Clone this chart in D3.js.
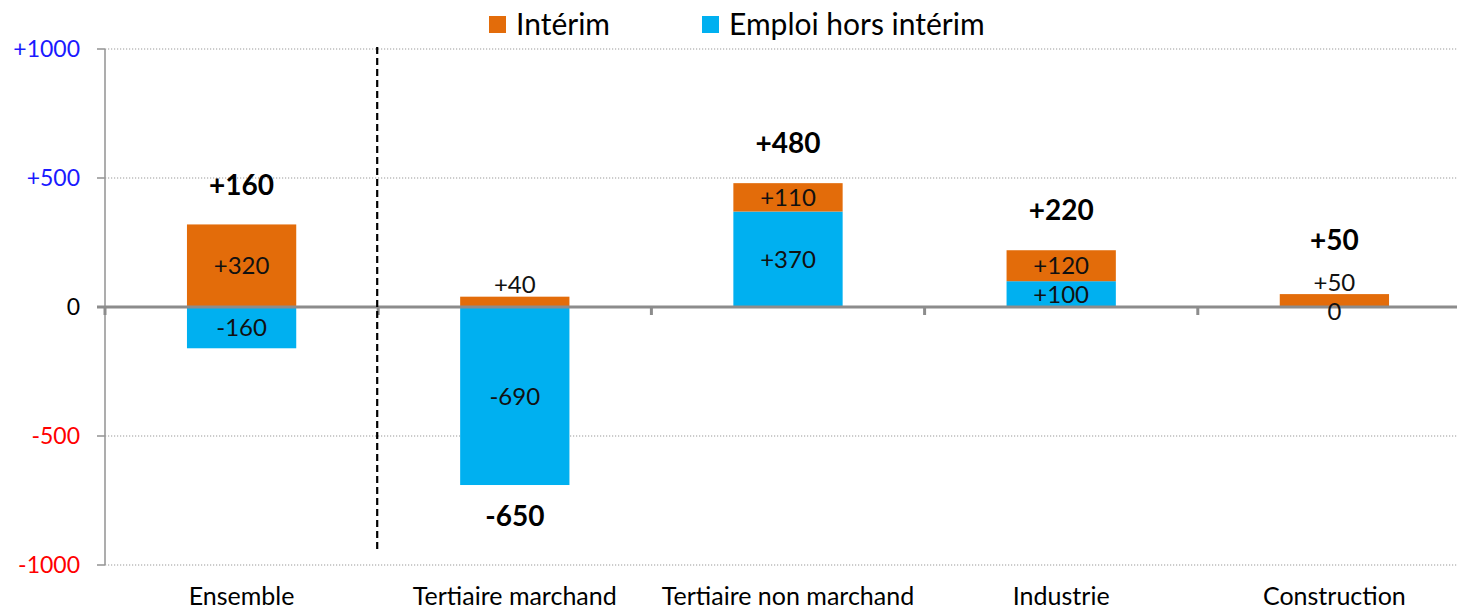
<!DOCTYPE html>
<html>
<head>
<meta charset="utf-8">
<script src="https://cdn.jsdelivr.net/npm/d3@7"></script>
<style>
  body { margin: 0; background: #fff; }
  svg { display: block; font-family: Lato, "Liberation Sans", sans-serif; }
</style>
</head>
<body>
<svg id="chart" width="1457" height="610"></svg>
<script>
"use strict";

// données
var categories = ["Ensemble", "Tertiaire marchand", "Tertiaire non marchand", "Industrie", "Construction"];
var interim = [320, 40, 110, 120, 50];
var emploiHorsInterim = [-160, -690, 370, 100, 0];
var totaux = [160, -650, 480, 220, 50];
var yTicks = [1000, 500, 0, -500, -1000];
var yTickLabels = ["+1000", "+500", "0", "-500", "-1000"];
var seriesNames = ["Intérim", "Emploi hors intérim"];

var ORANGE = "#E36C0A";
var BLEU = "#00B0F0";

var svg = d3.select("#chart");

var left = 105;
var x = d3.scaleBand().domain(categories).range([left, left + 5 * 273.2]).padding(0);
var y = d3.scaleLinear().domain([-1000, 1000]).range([565, 49]);
var barW = x.bandwidth() * 0.4;

function cx(c) { return x(c) + x.bandwidth() / 2; }
function fmt(v) { return v > 0 ? "+" + v : String(v); }
function segH(s) { return Math.abs(y(s.y0) - y(s.y1)); }

// grille pointillée
svg.append("g").selectAll("line")
  .data(yTicks.filter(function (d) { return d !== 0; }))
  .enter().append("line")
  .attr("x1", left).attr("x2", 1457)
  .attr("y1", function (d) { return y(d); }).attr("y2", function (d) { return y(d); })
  .attr("stroke", "#9a9a9a").attr("stroke-width", 1.2)
  .attr("stroke-dasharray", "1.2,1.8");

// axe vertical
svg.append("line")
  .attr("x1", left).attr("x2", left)
  .attr("y1", y(1000)).attr("y2", y(-1000))
  .attr("stroke", "#999").attr("stroke-width", 1.6);

svg.append("g").selectAll("line")
  .data(yTicks)
  .enter().append("line")
  .attr("x1", left - 8).attr("x2", left)
  .attr("y1", function (d) { return y(d); }).attr("y2", function (d) { return y(d); })
  .attr("stroke", "#999").attr("stroke-width", 1.6);

svg.append("g").selectAll("text")
  .data(yTicks)
  .enter().append("text")
  .attr("x", 80)
  .attr("y", function (d) { return y(d); })
  .attr("dy", "0.36em")
  .attr("text-anchor", "end")
  .attr("font-size", 23)
  .attr("fill", function (d) { return d > 0 ? "#1a1aff" : (d < 0 ? "#ff0000" : "#000"); })
  .text(function (d, i) { return yTickLabels[i]; });

// barres empilées
var rows = categories.map(function (c, i) {
  var segs = [];
  var pos = 0, neg = 0;
  [[emploiHorsInterim[i], BLEU, "emploi"], [interim[i], ORANGE, "interim"]].forEach(function (s) {
    var v = s[0], y0, y1;
    if (v >= 0) { y0 = pos; y1 = pos + v; pos = y1; }
    else { y0 = neg; y1 = neg + v; neg = y1; }
    segs.push({ cat: c, v: v, color: s[1], key: s[2], y0: y0, y1: y1 });
  });
  return { cat: c, segs: segs, pos: pos, neg: neg, total: totaux[i] };
});

var allSegs = [];
rows.forEach(function (r) { r.segs.forEach(function (s) { s.top = r.pos; allSegs.push(s); }); });

svg.append("g").selectAll("rect")
  .data(allSegs.filter(function (s) { return s.v !== 0; }))
  .enter().append("rect")
  .attr("x", function (s) { return cx(s.cat) - barW / 2; })
  .attr("width", barW)
  .attr("y", function (s) { return y(Math.max(s.y0, s.y1)); })
  .attr("height", function (s) { return segH(s); })
  .attr("fill", function (s) { return s.color; });

// ligne du zéro et graduations des catégories
svg.append("line")
  .attr("x1", left - 8).attr("x2", 1457)
  .attr("y1", y(0)).attr("y2", y(0))
  .attr("stroke", "#8c8c8c").attr("stroke-width", 3);

svg.append("g").selectAll("line")
  .data(categories)
  .enter().append("line")
  .attr("x1", function (c) { return x(c); }).attr("x2", function (c) { return x(c); })
  .attr("y1", y(0)).attr("y2", y(0) + 8)
  .attr("stroke", "#8c8c8c").attr("stroke-width", 3);

// séparateur
svg.append("line")
  .attr("x1", x(categories[1]) - 1).attr("x2", x(categories[1]) - 1)
  .attr("y1", 47).attr("y2", 552)
  .attr("stroke", "#000").attr("stroke-width", 2.2)
  .attr("stroke-dasharray", "7,4");

// étiquettes des segments
svg.append("g").selectAll("text")
  .data(allSegs)
  .enter().append("text")
  .attr("x", function (s) { return cx(s.cat); })
  .attr("y", function (s) {
    if (s.v === 0) return y(0) + 4;
    if (segH(s) < 16) return y(s.top) - 12;
    return (y(s.y0) + y(s.y1)) / 2;
  })
  .attr("dy", "0.36em")
  .attr("text-anchor", "middle")
  .attr("font-size", 24)
  .attr("fill", "#111")
  .text(function (s) { return fmt(s.v); });

// totaux
svg.append("g").selectAll("text")
  .data(rows)
  .enter().append("text")
  .attr("x", function (r) { return cx(r.cat); })
  .attr("y", function (r) {
    if (r.total < 0) return y(r.neg) + 31;
    // plus haut si une petite étiquette est posée au-dessus de la barre
    var tiny = r.segs.some(function (s) { return s.v > 0 && segH(s) < 16; });
    return y(r.pos) - (tiny ? 54 : 40);
  })
  .attr("dy", "0.36em")
  .attr("text-anchor", "middle")
  .attr("font-size", 28)
  .attr("font-weight", "bold")
  .attr("fill", "#000")
  .text(function (r) { return fmt(r.total); });

// libellés des catégories
svg.append("g").selectAll("text")
  .data(categories)
  .enter().append("text")
  .attr("x", function (c) { return cx(c); })
  .attr("y", 605)
  .attr("text-anchor", "middle")
  .attr("font-size", 25)
  .attr("fill", "#000")
  .text(function (c) { return c; });

// légende
var legend = svg.append("g").selectAll("g")
  .data(seriesNames)
  .enter().append("g")
  .attr("transform", function (d, i) { return "translate(" + (i === 0 ? 489 : 702) + ",16)"; });

legend.append("rect")
  .attr("width", 17).attr("height", 17)
  .attr("fill", function (d, i) { return i === 0 ? ORANGE : BLEU; });

legend.append("text")
  .attr("x", 27).attr("y", 19)
  .attr("font-size", 30)
  .attr("fill", "#000")
  .text(function (d) { return d; });
</script>
</body>
</html>
